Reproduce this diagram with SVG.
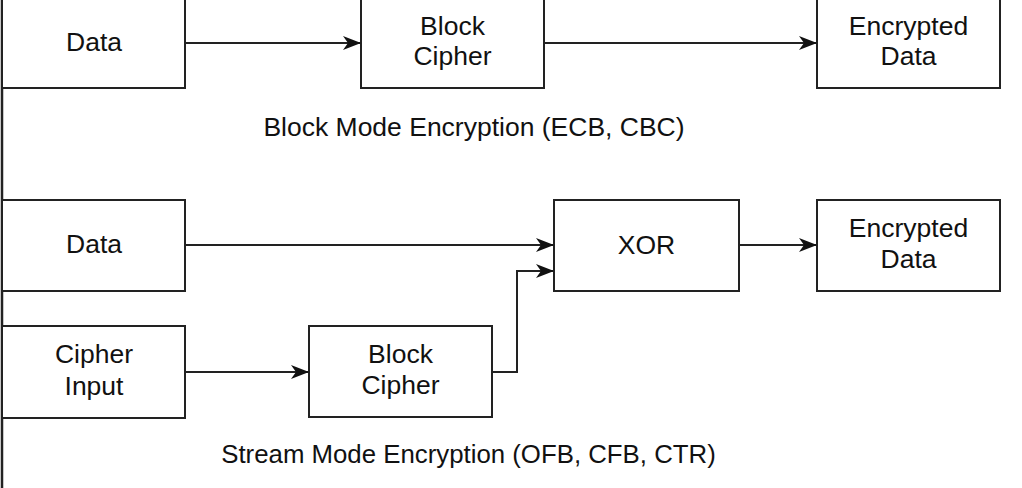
<svg xmlns="http://www.w3.org/2000/svg" width="1022" height="488" viewBox="0 0 1022 488">
<style>
.box{fill:#fff;stroke:#222;stroke-width:2}
.t{font-family:"Liberation Sans",Arial,sans-serif;font-size:26.5px;fill:#111;text-anchor:middle}
.c{fill:none;stroke:#222;stroke-width:2}
</style>
<defs>
<marker id="ah" viewBox="0 0 18 14" refX="18" refY="7" markerWidth="18" markerHeight="14" markerUnits="userSpaceOnUse" orient="auto">
<path d="M0,0 L18,7 L0,14 L5,7 z" fill="#111"/>
</marker>
</defs>
<rect width="1022" height="488" fill="#fff"/>
<line x1="2" y1="0" x2="2" y2="488" stroke="#222" stroke-width="2.5"/>
<g id="data1"><rect class="box" x="2" y="-10" width="183" height="98"/><text class="t" x="94" y="51">Data</text></g>
<g id="block1"><rect class="box" x="361" y="-10" width="183" height="98"/><text class="t" x="452.5" y="35">Block</text><text class="t" x="452.5" y="65">Cipher</text></g>
<g id="enc1"><rect class="box" x="817" y="-10" width="183" height="98"/><text class="t" x="908.5" y="35">Encrypted</text><text class="t" x="908.5" y="65">Data</text></g>
<g id="label1"><text class="t" x="474" y="136">Block Mode Encryption (ECB, CBC)</text></g>
<g id="data2"><rect class="box" x="2" y="200" width="183" height="91"/><text class="t" x="94" y="253">Data</text></g>
<g id="xor"><rect class="box" x="554" y="200" width="185" height="91"/><text class="t" x="646.5" y="254">XOR</text></g>
<g id="enc2"><rect class="box" x="817" y="200" width="183" height="91"/><text class="t" x="908.5" y="237">Encrypted</text><text class="t" x="908.5" y="268">Data</text></g>
<g id="cipherinput"><rect class="box" x="2" y="326" width="183" height="92"/><text class="t" x="94" y="363">Cipher</text><text class="t" x="94" y="395">Input</text></g>
<g id="block2"><rect class="box" x="309" y="326" width="183" height="91"/><text class="t" x="400.5" y="363">Block</text><text class="t" x="400.5" y="394">Cipher</text></g>
<g id="label2"><text class="t" x="468.5" y="463" style="font-size:25.8px">Stream Mode Encryption (OFB, CFB, CTR)</text></g>
<g id="connectors">
<line class="c" x1="185" y1="43" x2="361" y2="43" marker-end="url(#ah)"/>
<line class="c" x1="544" y1="43" x2="817" y2="43" marker-end="url(#ah)"/>
<line class="c" x1="185" y1="245" x2="554" y2="245" marker-end="url(#ah)"/>
<line class="c" x1="739" y1="245" x2="817" y2="245" marker-end="url(#ah)"/>
<line class="c" x1="185" y1="372" x2="309" y2="372" marker-end="url(#ah)"/>
<polyline class="c" points="492,372 517,372 517,271 554,271" marker-end="url(#ah)"/>
</g>
</svg>
